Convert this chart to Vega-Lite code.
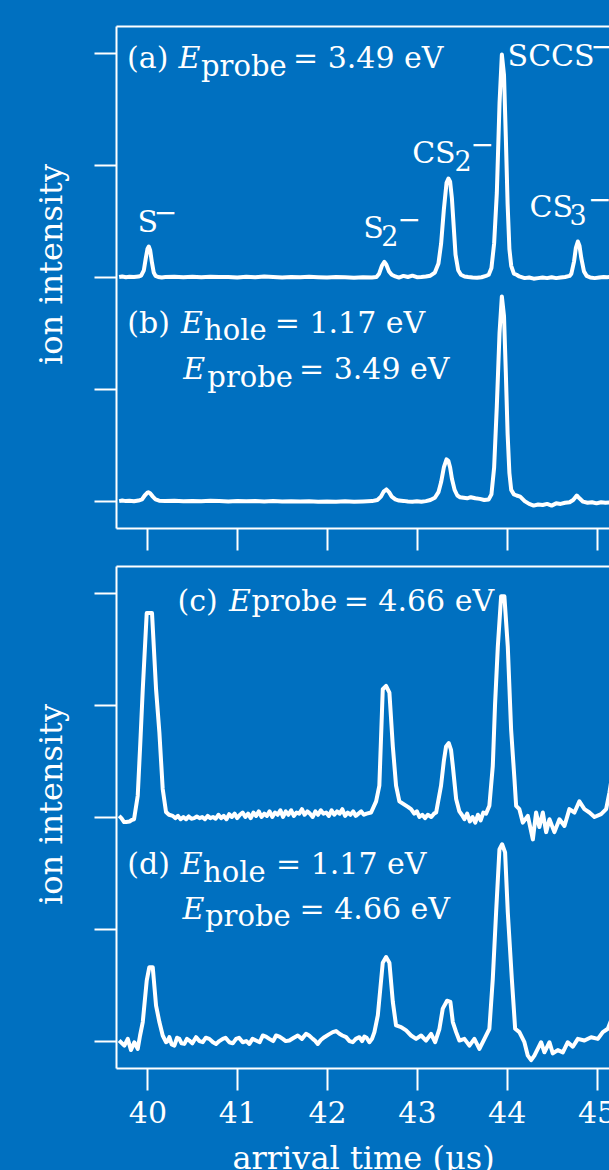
{
"$schema": "https://vega.github.io/schema/vega-lite/v6.json",
"background": "#0070C0",
"padding": {"left": 35, "top": 26, "right": 0, "bottom": 0},
"spacing": 38,
"bounds": "flush",
"config": {
  "view": {"stroke": null},
  "font": "DejaVu Serif",
  "axis": {"domainColor": "white", "domainWidth": 2, "tickColor": "white", "tickWidth": 2, "tickSize": 22, "grid": false, "labelColor": "white", "labelFont": "DejaVu Serif", "labelFontSize": 30, "labelPadding": 8, "titleColor": "white", "titleFont": "DejaVu Serif", "titleFontSize": 32, "titleFontWeight": "normal"}
},
"datasets": {
"tr1": [
{"s":"a","x":39.685,"y":2.0},{"s":"a","x":39.72,"y":2.005},{"s":"a","x":39.76,"y":1.998},{"s":"a","x":39.8,"y":2.003},{"s":"a","x":39.85,"y":2.0},{"s":"a","x":39.9,"y":2.004},{"s":"a","x":39.93,"y":2.012},{"s":"a","x":39.96,"y":2.06},{"s":"a","x":39.98,"y":2.16},{"s":"a","x":40.0,"y":2.25},{"s":"a","x":40.015,"y":2.272},{"s":"a","x":40.03,"y":2.24},{"s":"a","x":40.05,"y":2.13},{"s":"a","x":40.07,"y":2.04},{"s":"a","x":40.09,"y":2.01},{"s":"a","x":40.12,"y":2.0},{"s":"a","x":40.16,"y":1.996},{"s":"a","x":40.2,"y":1.999},{"s":"a","x":40.3,"y":2.003},{"s":"a","x":40.4,"y":1.997},{"s":"a","x":40.5,"y":2.002},{"s":"a","x":40.6,"y":1.997},{"s":"a","x":40.7,"y":2.003},{"s":"a","x":40.8,"y":1.999},{"s":"a","x":40.9,"y":2.001},{"s":"a","x":41.0,"y":1.996},{"s":"a","x":41.1,"y":2.002},{"s":"a","x":41.2,"y":1.998},{"s":"a","x":41.3,"y":2.004},{"s":"a","x":41.4,"y":1.999},{"s":"a","x":41.5,"y":1.995},{"s":"a","x":41.6,"y":2.001},{"s":"a","x":41.7,"y":1.997},{"s":"a","x":41.8,"y":2.002},{"s":"a","x":41.9,"y":1.998},{"s":"a","x":42.0,"y":1.995},{"s":"a","x":42.1,"y":2.0},{"s":"a","x":42.2,"y":1.997},{"s":"a","x":42.3,"y":1.994},{"s":"a","x":42.4,"y":1.998},{"s":"a","x":42.5,"y":1.996},{"s":"a","x":42.55,"y":2.0},{"s":"a","x":42.58,"y":2.03},{"s":"a","x":42.61,"y":2.1},{"s":"a","x":42.638,"y":2.135},{"s":"a","x":42.66,"y":2.11},{"s":"a","x":42.69,"y":2.05},{"s":"a","x":42.72,"y":2.02},{"s":"a","x":42.76,"y":2.005},{"s":"a","x":42.8,"y":1.995},{"s":"a","x":42.85,"y":2.01},{"s":"a","x":42.9,"y":2.0},{"s":"a","x":42.95,"y":2.012},{"s":"a","x":43.0,"y":1.998},{"s":"a","x":43.05,"y":2.0},{"s":"a","x":43.1,"y":2.005},{"s":"a","x":43.15,"y":2.012},{"s":"a","x":43.2,"y":2.04},{"s":"a","x":43.24,"y":2.12},{"s":"a","x":43.27,"y":2.3},{"s":"a","x":43.3,"y":2.6},{"s":"a","x":43.33,"y":2.84},{"s":"a","x":43.351,"y":2.879},{"s":"a","x":43.37,"y":2.85},{"s":"a","x":43.39,"y":2.7},{"s":"a","x":43.41,"y":2.45},{"s":"a","x":43.43,"y":2.2},{"s":"a","x":43.46,"y":2.06},{"s":"a","x":43.49,"y":2.02},{"s":"a","x":43.53,"y":2.005},{"s":"a","x":43.57,"y":2.0},{"s":"a","x":43.62,"y":1.995},{"s":"a","x":43.67,"y":1.993},{"s":"a","x":43.72,"y":1.998},{"s":"a","x":43.77,"y":2.01},{"s":"a","x":43.8,"y":2.02},{"s":"a","x":43.83,"y":2.08},{"s":"a","x":43.86,"y":2.3},{"s":"a","x":43.89,"y":2.75},{"s":"a","x":43.92,"y":3.55},{"s":"a","x":43.946,"y":3.985},{"s":"a","x":43.97,"y":3.8},{"s":"a","x":43.99,"y":3.25},{"s":"a","x":44.01,"y":2.65},{"s":"a","x":44.03,"y":2.25},{"s":"a","x":44.05,"y":2.1},{"s":"a","x":44.08,"y":2.03},{"s":"a","x":44.11,"y":2.02},{"s":"a","x":44.14,"y":2.005},{"s":"a","x":44.2,"y":1.99},{"s":"a","x":44.25,"y":1.995},{"s":"a","x":44.3,"y":1.985},{"s":"a","x":44.35,"y":1.99},{"s":"a","x":44.4,"y":1.995},{"s":"a","x":44.45,"y":1.99},{"s":"a","x":44.5,"y":1.998},{"s":"a","x":44.55,"y":1.99},{"s":"a","x":44.6,"y":1.995},{"s":"a","x":44.65,"y":2.0},{"s":"a","x":44.7,"y":2.01},{"s":"a","x":44.72,"y":2.03},{"s":"a","x":44.75,"y":2.14},{"s":"a","x":44.77,"y":2.26},{"s":"a","x":44.792,"y":2.317},{"s":"a","x":44.81,"y":2.28},{"s":"a","x":44.83,"y":2.17},{"s":"a","x":44.86,"y":2.05},{"s":"a","x":44.89,"y":2.01},{"s":"a","x":44.93,"y":1.995},{"s":"a","x":44.98,"y":1.99},{"s":"a","x":45.03,"y":1.995},{"s":"a","x":45.08,"y":2.0},{"s":"a","x":45.12,"y":1.998},{"s":"a","x":45.16,"y":2.0},
{"s":"b","x":39.685,"y":0.0},{"s":"b","x":39.72,"y":0.005},{"s":"b","x":39.76,"y":0.0},{"s":"b","x":39.8,"y":0.003},{"s":"b","x":39.85,"y":-0.002},{"s":"b","x":39.9,"y":0.005},{"s":"b","x":39.94,"y":0.015},{"s":"b","x":39.97,"y":0.05},{"s":"b","x":40.0,"y":0.075},{"s":"b","x":40.01,"y":0.078},{"s":"b","x":40.03,"y":0.07},{"s":"b","x":40.06,"y":0.04},{"s":"b","x":40.09,"y":0.015},{"s":"b","x":40.13,"y":0.004},{"s":"b","x":40.2,"y":0.0},{"s":"b","x":40.3,"y":0.003},{"s":"b","x":40.4,"y":-0.002},{"s":"b","x":40.5,"y":0.002},{"s":"b","x":40.6,"y":-0.001},{"s":"b","x":40.7,"y":0.003},{"s":"b","x":40.8,"y":0.0},{"s":"b","x":40.9,"y":-0.003},{"s":"b","x":41.0,"y":0.001},{"s":"b","x":41.1,"y":-0.002},{"s":"b","x":41.2,"y":0.0},{"s":"b","x":41.3,"y":-0.004},{"s":"b","x":41.4,"y":0.001},{"s":"b","x":41.5,"y":-0.003},{"s":"b","x":41.6,"y":-0.001},{"s":"b","x":41.7,"y":-0.004},{"s":"b","x":41.8,"y":-0.002},{"s":"b","x":41.9,"y":-0.006},{"s":"b","x":42.0,"y":-0.003},{"s":"b","x":42.1,"y":-0.006},{"s":"b","x":42.2,"y":-0.002},{"s":"b","x":42.3,"y":-0.005},{"s":"b","x":42.4,"y":-0.003},{"s":"b","x":42.5,"y":0.0},{"s":"b","x":42.56,"y":0.01},{"s":"b","x":42.6,"y":0.04},{"s":"b","x":42.63,"y":0.085},{"s":"b","x":42.66,"y":0.104},{"s":"b","x":42.69,"y":0.08},{"s":"b","x":42.72,"y":0.04},{"s":"b","x":42.76,"y":0.015},{"s":"b","x":42.8,"y":0.005},{"s":"b","x":42.85,"y":0.002},{"s":"b","x":42.9,"y":-0.003},{"s":"b","x":42.95,"y":-0.005},{"s":"b","x":43.0,"y":-0.002},{"s":"b","x":43.05,"y":-0.006},{"s":"b","x":43.1,"y":0.0},{"s":"b","x":43.15,"y":0.01},{"s":"b","x":43.2,"y":0.03},{"s":"b","x":43.24,"y":0.08},{"s":"b","x":43.27,"y":0.17},{"s":"b","x":43.3,"y":0.3},{"s":"b","x":43.33,"y":0.372},{"s":"b","x":43.35,"y":0.36},{"s":"b","x":43.37,"y":0.3},{"s":"b","x":43.39,"y":0.2},{"s":"b","x":43.42,"y":0.1},{"s":"b","x":43.45,"y":0.05},{"s":"b","x":43.48,"y":0.035},{"s":"b","x":43.52,"y":0.03},{"s":"b","x":43.56,"y":0.025},{"s":"b","x":43.6,"y":0.035},{"s":"b","x":43.65,"y":0.025},{"s":"b","x":43.7,"y":0.02},{"s":"b","x":43.75,"y":0.01},{"s":"b","x":43.8,"y":0.015},{"s":"b","x":43.83,"y":0.06},{"s":"b","x":43.86,"y":0.3},{"s":"b","x":43.89,"y":0.85},{"s":"b","x":43.92,"y":1.5},{"s":"b","x":43.946,"y":1.826},{"s":"b","x":43.97,"y":1.65},{"s":"b","x":43.99,"y":1.15},{"s":"b","x":44.01,"y":0.6},{"s":"b","x":44.03,"y":0.25},{"s":"b","x":44.05,"y":0.1},{"s":"b","x":44.08,"y":0.06},{"s":"b","x":44.11,"y":0.05},{"s":"b","x":44.15,"y":0.04},{"s":"b","x":44.2,"y":0.0},{"s":"b","x":44.25,"y":-0.025},{"s":"b","x":44.3,"y":-0.04},{"s":"b","x":44.35,"y":-0.03},{"s":"b","x":44.4,"y":-0.035},{"s":"b","x":44.45,"y":-0.025},{"s":"b","x":44.5,"y":-0.04},{"s":"b","x":44.55,"y":-0.02},{"s":"b","x":44.6,"y":-0.025},{"s":"b","x":44.65,"y":-0.015},{"s":"b","x":44.7,"y":-0.01},{"s":"b","x":44.74,"y":0.01},{"s":"b","x":44.78,"y":0.05},{"s":"b","x":44.81,"y":0.025},{"s":"b","x":44.85,"y":-0.005},{"s":"b","x":44.9,"y":-0.015},{"s":"b","x":44.95,"y":-0.01},{"s":"b","x":45.0,"y":-0.02},{"s":"b","x":45.05,"y":-0.01},{"s":"b","x":45.1,"y":-0.015},{"s":"b","x":45.16,"y":-0.01}
],
"tr2": [
{"s":"c","x":39.685,"y":2.01},{"s":"c","x":39.71,"y":1.99},{"s":"c","x":39.74,"y":1.955},{"s":"c","x":39.762,"y":1.955},{"s":"c","x":39.8,"y":1.96},{"s":"c","x":39.83,"y":1.975},{"s":"c","x":39.851,"y":1.98},{"s":"c","x":39.892,"y":2.19},{"s":"c","x":39.92,"y":2.65},{"s":"c","x":39.948,"y":3.14},{"s":"c","x":39.992,"y":3.82},{"s":"c","x":40.051,"y":3.82},{"s":"c","x":40.096,"y":3.14},{"s":"c","x":40.133,"y":2.755},{"s":"c","x":40.17,"y":2.25},{"s":"c","x":40.207,"y":2.045},{"s":"c","x":40.24,"y":2.02},{"s":"c","x":40.282,"y":2.01},{"s":"c","x":40.31,"y":1.99},{"s":"c","x":40.34,"y":2.01},{"s":"c","x":40.37,"y":1.98},{"s":"c","x":40.4,"y":2.0},{"s":"c","x":40.43,"y":1.98},{"s":"c","x":40.46,"y":2.005},{"s":"c","x":40.49,"y":1.985},{"s":"c","x":40.52,"y":1.99},{"s":"c","x":40.55,"y":2.005},{"s":"c","x":40.58,"y":1.99},{"s":"c","x":40.61,"y":2.0},{"s":"c","x":40.64,"y":1.98},{"s":"c","x":40.67,"y":2.01},{"s":"c","x":40.7,"y":1.99},{"s":"c","x":40.73,"y":2.0},{"s":"c","x":40.76,"y":1.985},{"s":"c","x":40.79,"y":2.02},{"s":"c","x":40.82,"y":1.99},{"s":"c","x":40.85,"y":2.01},{"s":"c","x":40.88,"y":1.98},{"s":"c","x":40.91,"y":2.025},{"s":"c","x":40.94,"y":2.0},{"s":"c","x":40.97,"y":2.03},{"s":"c","x":41.0,"y":1.99},{"s":"c","x":41.03,"y":2.02},{"s":"c","x":41.06,"y":2.04},{"s":"c","x":41.09,"y":2.0},{"s":"c","x":41.12,"y":2.03},{"s":"c","x":41.15,"y":1.99},{"s":"c","x":41.18,"y":2.04},{"s":"c","x":41.21,"y":2.01},{"s":"c","x":41.24,"y":2.05},{"s":"c","x":41.27,"y":2.0},{"s":"c","x":41.3,"y":2.03},{"s":"c","x":41.33,"y":2.01},{"s":"c","x":41.36,"y":2.05},{"s":"c","x":41.39,"y":2.0},{"s":"c","x":41.42,"y":2.04},{"s":"c","x":41.45,"y":2.02},{"s":"c","x":41.48,"y":2.06},{"s":"c","x":41.51,"y":2.0},{"s":"c","x":41.54,"y":2.05},{"s":"c","x":41.57,"y":2.02},{"s":"c","x":41.6,"y":2.06},{"s":"c","x":41.63,"y":2.01},{"s":"c","x":41.66,"y":2.04},{"s":"c","x":41.69,"y":2.03},{"s":"c","x":41.72,"y":2.07},{"s":"c","x":41.75,"y":2.02},{"s":"c","x":41.78,"y":2.05},{"s":"c","x":41.81,"y":2.03},{"s":"c","x":41.84,"y":2.0},{"s":"c","x":41.87,"y":2.05},{"s":"c","x":41.9,"y":2.02},{"s":"c","x":41.93,"y":2.06},{"s":"c","x":41.96,"y":2.03},{"s":"c","x":41.99,"y":2.04},{"s":"c","x":42.02,"y":2.01},{"s":"c","x":42.05,"y":2.06},{"s":"c","x":42.08,"y":2.02},{"s":"c","x":42.11,"y":2.05},{"s":"c","x":42.14,"y":2.03},{"s":"c","x":42.17,"y":2.07},{"s":"c","x":42.2,"y":2.01},{"s":"c","x":42.23,"y":2.04},{"s":"c","x":42.26,"y":2.02},{"s":"c","x":42.29,"y":2.05},{"s":"c","x":42.32,"y":2.01},{"s":"c","x":42.35,"y":2.03},{"s":"c","x":42.38,"y":2.05},{"s":"c","x":42.41,"y":2.02},{"s":"c","x":42.44,"y":2.03},{"s":"c","x":42.49,"y":2.04},{"s":"c","x":42.546,"y":2.14},{"s":"c","x":42.582,"y":2.28},{"s":"c","x":42.62,"y":3.14},{"s":"c","x":42.657,"y":3.17},{"s":"c","x":42.694,"y":3.11},{"s":"c","x":42.732,"y":2.63},{"s":"c","x":42.768,"y":2.28},{"s":"c","x":42.805,"y":2.14},{"s":"c","x":42.861,"y":2.11},{"s":"c","x":42.9,"y":2.09},{"s":"c","x":42.935,"y":2.07},{"s":"c","x":42.97,"y":2.03},{"s":"c","x":43.0,"y":2.05},{"s":"c","x":43.028,"y":2.0},{"s":"c","x":43.06,"y":2.02},{"s":"c","x":43.09,"y":1.99},{"s":"c","x":43.121,"y":2.02},{"s":"c","x":43.16,"y":2.0},{"s":"c","x":43.19,"y":2.03},{"s":"c","x":43.214,"y":2.04},{"s":"c","x":43.269,"y":2.28},{"s":"c","x":43.3,"y":2.5},{"s":"c","x":43.325,"y":2.63},{"s":"c","x":43.355,"y":2.66},{"s":"c","x":43.38,"y":2.6},{"s":"c","x":43.4,"y":2.455},{"s":"c","x":43.437,"y":2.16},{"s":"c","x":43.473,"y":2.05},{"s":"c","x":43.5,"y":2.02},{"s":"c","x":43.53,"y":1.98},{"s":"c","x":43.56,"y":2.03},{"s":"c","x":43.59,"y":1.96},{"s":"c","x":43.62,"y":2.0},{"s":"c","x":43.65,"y":1.95},{"s":"c","x":43.68,"y":2.02},{"s":"c","x":43.71,"y":1.97},{"s":"c","x":43.74,"y":2.04},{"s":"c","x":43.77,"y":2.03},{"s":"c","x":43.807,"y":2.1},{"s":"c","x":43.845,"y":2.455},{"s":"c","x":43.87,"y":3.0},{"s":"c","x":43.901,"y":3.52},{"s":"c","x":43.938,"y":3.97},{"s":"c","x":43.974,"y":3.97},{"s":"c","x":44.012,"y":3.52},{"s":"c","x":44.049,"y":2.78},{"s":"c","x":44.086,"y":2.34},{"s":"c","x":44.105,"y":2.1},{"s":"c","x":44.141,"y":2.07},{"s":"c","x":44.179,"y":1.95},{"s":"c","x":44.235,"y":2.01},{"s":"c","x":44.291,"y":1.8},{"s":"c","x":44.327,"y":2.04},{"s":"c","x":44.364,"y":1.91},{"s":"c","x":44.402,"y":2.04},{"s":"c","x":44.439,"y":1.865},{"s":"c","x":44.476,"y":1.98},{"s":"c","x":44.531,"y":1.865},{"s":"c","x":44.587,"y":1.98},{"s":"c","x":44.643,"y":1.92},{"s":"c","x":44.698,"y":2.07},{"s":"c","x":44.754,"y":2.04},{"s":"c","x":44.809,"y":2.14},{"s":"c","x":44.865,"y":2.07},{"s":"c","x":44.921,"y":2.04},{"s":"c","x":44.977,"y":2.0},{"s":"c","x":45.051,"y":2.025},{"s":"c","x":45.107,"y":2.07},{"s":"c","x":45.144,"y":2.22},{"s":"c","x":45.16,"y":2.3},
{"s":"d","x":39.685,"y":0.005},{"s":"d","x":39.743,"y":-0.04},{"s":"d","x":39.781,"y":0.02},{"s":"d","x":39.817,"y":-0.08},{"s":"d","x":39.854,"y":-0.01},{"s":"d","x":39.892,"y":-0.07},{"s":"d","x":39.918,"y":0.05},{"s":"d","x":39.948,"y":0.17},{"s":"d","x":39.992,"y":0.54},{"s":"d","x":40.021,"y":0.66},{"s":"d","x":40.059,"y":0.66},{"s":"d","x":40.096,"y":0.317},{"s":"d","x":40.133,"y":0.17},{"s":"d","x":40.17,"y":0.05},{"s":"d","x":40.207,"y":-0.01},{"s":"d","x":40.226,"y":0.0},{"s":"d","x":40.244,"y":0.035},{"s":"d","x":40.27,"y":-0.03},{"s":"d","x":40.3,"y":-0.04},{"s":"d","x":40.33,"y":0.03},{"s":"d","x":40.355,"y":0.02},{"s":"d","x":40.38,"y":-0.02},{"s":"d","x":40.411,"y":-0.025},{"s":"d","x":40.44,"y":0.02},{"s":"d","x":40.467,"y":0.005},{"s":"d","x":40.5,"y":-0.02},{"s":"d","x":40.541,"y":0.035},{"s":"d","x":40.58,"y":0.0},{"s":"d","x":40.616,"y":-0.01},{"s":"d","x":40.65,"y":0.03},{"s":"d","x":40.689,"y":0.02},{"s":"d","x":40.73,"y":-0.01},{"s":"d","x":40.764,"y":-0.025},{"s":"d","x":40.8,"y":0.0},{"s":"d","x":40.839,"y":0.02},{"s":"d","x":40.87,"y":0.03},{"s":"d","x":40.912,"y":-0.01},{"s":"d","x":40.95,"y":-0.02},{"s":"d","x":40.987,"y":0.02},{"s":"d","x":41.02,"y":0.03},{"s":"d","x":41.061,"y":-0.01},{"s":"d","x":41.1,"y":0.0},{"s":"d","x":41.135,"y":-0.025},{"s":"d","x":41.17,"y":0.02},{"s":"d","x":41.209,"y":0.005},{"s":"d","x":41.25,"y":-0.01},{"s":"d","x":41.284,"y":0.05},{"s":"d","x":41.32,"y":0.04},{"s":"d","x":41.357,"y":0.02},{"s":"d","x":41.4,"y":0.0},{"s":"d","x":41.432,"y":0.05},{"s":"d","x":41.47,"y":0.04},{"s":"d","x":41.507,"y":0.02},{"s":"d","x":41.54,"y":0.0},{"s":"d","x":41.58,"y":0.005},{"s":"d","x":41.63,"y":0.03},{"s":"d","x":41.674,"y":0.05},{"s":"d","x":41.72,"y":0.02},{"s":"d","x":41.766,"y":0.065},{"s":"d","x":41.8,"y":0.05},{"s":"d","x":41.841,"y":0.02},{"s":"d","x":41.87,"y":0.0},{"s":"d","x":41.896,"y":-0.025},{"s":"d","x":41.93,"y":0.01},{"s":"d","x":41.97,"y":0.035},{"s":"d","x":42.02,"y":0.06},{"s":"d","x":42.063,"y":0.08},{"s":"d","x":42.1,"y":0.09},{"s":"d","x":42.137,"y":0.065},{"s":"d","x":42.17,"y":0.05},{"s":"d","x":42.212,"y":0.035},{"s":"d","x":42.25,"y":0.0},{"s":"d","x":42.286,"y":-0.01},{"s":"d","x":42.32,"y":0.02},{"s":"d","x":42.36,"y":0.035},{"s":"d","x":42.39,"y":0.0},{"s":"d","x":42.415,"y":0.04},{"s":"d","x":42.44,"y":0.03},{"s":"d","x":42.471,"y":-0.01},{"s":"d","x":42.5,"y":0.02},{"s":"d","x":42.527,"y":0.08},{"s":"d","x":42.565,"y":0.23},{"s":"d","x":42.62,"y":0.7},{"s":"d","x":42.657,"y":0.75},{"s":"d","x":42.694,"y":0.7},{"s":"d","x":42.732,"y":0.35},{"s":"d","x":42.768,"y":0.14},{"s":"d","x":42.824,"y":0.125},{"s":"d","x":42.88,"y":0.095},{"s":"d","x":42.935,"y":0.05},{"s":"d","x":42.991,"y":0.02},{"s":"d","x":43.047,"y":0.05},{"s":"d","x":43.102,"y":0.005},{"s":"d","x":43.158,"y":0.065},{"s":"d","x":43.203,"y":-0.01},{"s":"d","x":43.251,"y":0.11},{"s":"d","x":43.288,"y":0.29},{"s":"d","x":43.336,"y":0.36},{"s":"d","x":43.373,"y":0.35},{"s":"d","x":43.4,"y":0.17},{"s":"d","x":43.437,"y":0.08},{"s":"d","x":43.473,"y":0.005},{"s":"d","x":43.529,"y":0.02},{"s":"d","x":43.585,"y":-0.04},{"s":"d","x":43.64,"y":0.02},{"s":"d","x":43.696,"y":-0.07},{"s":"d","x":43.752,"y":0.02},{"s":"d","x":43.807,"y":0.11},{"s":"d","x":43.845,"y":0.555},{"s":"d","x":43.882,"y":1.15},{"s":"d","x":43.919,"y":1.71},{"s":"d","x":43.949,"y":1.757},{"s":"d","x":43.982,"y":1.684},{"s":"d","x":44.012,"y":1.15},{"s":"d","x":44.057,"y":0.555},{"s":"d","x":44.094,"y":0.11},{"s":"d","x":44.141,"y":0.08},{"s":"d","x":44.197,"y":-0.01},{"s":"d","x":44.235,"y":-0.13},{"s":"d","x":44.272,"y":-0.17},{"s":"d","x":44.308,"y":-0.13},{"s":"d","x":44.383,"y":-0.01},{"s":"d","x":44.42,"y":-0.1},{"s":"d","x":44.476,"y":-0.01},{"s":"d","x":44.513,"y":-0.11},{"s":"d","x":44.569,"y":-0.08},{"s":"d","x":44.625,"y":-0.1},{"s":"d","x":44.68,"y":-0.01},{"s":"d","x":44.736,"y":-0.05},{"s":"d","x":44.792,"y":0.02},{"s":"d","x":44.865,"y":0.005},{"s":"d","x":44.94,"y":0.035},{"s":"d","x":45.015,"y":0.02},{"s":"d","x":45.07,"y":0.08},{"s":"d","x":45.126,"y":0.11},{"s":"d","x":45.16,"y":0.18}
],
"lab1": [
{"t":"(a)","x":39.773,"y":3.866},{"t":"= 3.49 eV","x":41.621,"y":3.866},
{"t":"(b)","x":39.776,"y":1.502},{"t":"= 1.17 eV","x":41.418,"y":1.502},
{"t":"= 3.49 eV","x":41.688,"y":1.086},
{"t":"S","x":39.89,"y":2.403},{"t":"S","x":42.403,"y":2.35},{"t":"CS","x":42.947,"y":3.019},{"t":"SCCS","x":44.01,"y":3.887},{"t":"CS","x":44.253,"y":2.535}
],
"sw1": [
{"t":"probe","x":40.597,"y":3.795},{"t":"hole","x":40.63,"y":1.436},{"t":"probe","x":40.667,"y":1.019}
],
"it1": [
{"t":"E","x":40.347,"y":3.866},{"t":"E","x":40.374,"y":1.502},{"t":"E","x":40.4,"y":1.086}
],
"sub1": [
{"t":"2","x":42.604,"y":2.275},{"t":"2","x":43.42,"y":2.944},{"t":"3","x":44.7,"y":2.468}
],
"neg1": [
{"t":"−","x":40.07,"y":2.492},{"t":"−","x":42.783,"y":2.432},{"t":"−","x":43.596,"y":3.101},{"t":"−","x":44.932,"y":3.97},{"t":"−","x":44.906,"y":2.61}
],
"lab2": [
{"t":"(c)","x":40.336,"y":3.836},{"t":"= 4.66 eV","x":42.185,"y":3.836},
{"t":"(d)","x":39.775,"y":1.49},{"t":"= 1.17 eV","x":41.432,"y":1.49},
{"t":"= 4.66 eV","x":41.694,"y":1.09}
],
"sw2": [
{"t":"probe","x":41.158,"y":3.836},{"t":"hole","x":40.619,"y":1.424},{"t":"probe","x":40.641,"y":1.023}
],
"it2": [
{"t":"E","x":40.909,"y":3.836},{"t":"E","x":40.37,"y":1.49},{"t":"E","x":40.391,"y":1.09}
]
},
"vconcat": [
{
"width": 494, "height": 502,
"resolve": {"axis": {"x": "independent", "y": "independent"}},
"layer": [
{"data": {"name": "tr1"}, "mark": {"type": "line", "color": "white", "strokeWidth": 4, "strokeJoin": "round", "clip": true},
 "encoding": {
  "x": {"field": "x", "type": "quantitative", "scale": {"domain": [39.65, 45.15], "nice": false, "zero": false}, "axis": {"orient": "bottom", "values": [40,41,42,43,44,45], "labels": false, "title": null}},
  "y": {"field": "y", "type": "quantitative", "scale": {"domain": [-0.24, 4.24], "nice": false, "zero": false}, "axis": {"orient": "left", "values": [0,1,2,3,4], "labels": false, "title": "ion intensity", "titleX": -48, "titleY": 238}},
  "detail": {"field": "s", "type": "nominal"}}},
{"data": {"name": "lab1"}, "mark": {"type": "text", "color": "white", "fontSize": 30, "align": "left", "baseline": "alphabetic"},
 "encoding": {
  "x": {"field": "x", "type": "quantitative", "axis": {"orient": "top", "ticks": false, "labels": false, "title": null}},
  "y": {"field": "y", "type": "quantitative", "axis": null},
  "text": {"field": "t"}}},
{"data": {"name": "sw1"}, "mark": {"type": "text", "color": "white", "fontSize": 29, "align": "left", "baseline": "alphabetic"},
 "encoding": {
  "x": {"field": "x", "type": "quantitative", "axis": null},
  "y": {"field": "y", "type": "quantitative", "axis": null},
  "text": {"field": "t"}}},
{"data": {"name": "it1"}, "mark": {"type": "text", "color": "white", "fontSize": 30, "fontStyle": "italic", "align": "left", "baseline": "alphabetic"},
 "encoding": {
  "x": {"field": "x", "type": "quantitative", "axis": null},
  "y": {"field": "y", "type": "quantitative", "axis": null},
  "text": {"field": "t"}}},
{"data": {"name": "sub1"}, "mark": {"type": "text", "color": "white", "fontSize": 27, "align": "left", "baseline": "alphabetic"},
 "encoding": {
  "x": {"field": "x", "type": "quantitative", "axis": null},
  "y": {"field": "y", "type": "quantitative", "axis": null},
  "text": {"field": "t"}}},
{"data": {"name": "neg1"}, "mark": {"type": "text", "color": "white", "fontSize": 28, "align": "left", "baseline": "alphabetic", "clip": true},
 "encoding": {
  "x": {"field": "x", "type": "quantitative", "axis": null},
  "y": {"field": "y", "type": "quantitative", "axis": null},
  "text": {"field": "t"}}}
]
},
{
"width": 494, "height": 502,
"resolve": {"axis": {"x": "independent", "y": "independent"}},
"layer": [
{"data": {"name": "tr2"}, "mark": {"type": "line", "color": "white", "strokeWidth": 4, "strokeJoin": "round", "clip": true},
 "encoding": {
  "x": {"field": "x", "type": "quantitative", "scale": {"domain": [39.65, 45.15], "nice": false, "zero": false}, "axis": {"orient": "bottom", "values": [40,41,42,43,44,45], "format": "d", "title": "arrival time (µs)", "titlePadding": 15}},
  "y": {"field": "y", "type": "quantitative", "scale": {"domain": [-0.24, 4.24], "nice": false, "zero": false}, "axis": {"orient": "left", "values": [0,1,2,3,4], "labels": false, "title": "ion intensity", "titleX": -48, "titleY": 238}},
  "detail": {"field": "s", "type": "nominal"}}},
{"data": {"name": "lab2"}, "mark": {"type": "text", "color": "white", "fontSize": 30, "align": "left", "baseline": "alphabetic"},
 "encoding": {
  "x": {"field": "x", "type": "quantitative", "axis": {"orient": "top", "ticks": false, "labels": false, "title": null}},
  "y": {"field": "y", "type": "quantitative", "axis": null},
  "text": {"field": "t"}}},
{"data": {"name": "sw2"}, "mark": {"type": "text", "color": "white", "fontSize": 29, "align": "left", "baseline": "alphabetic"},
 "encoding": {
  "x": {"field": "x", "type": "quantitative", "axis": null},
  "y": {"field": "y", "type": "quantitative", "axis": null},
  "text": {"field": "t"}}},
{"data": {"name": "it2"}, "mark": {"type": "text", "color": "white", "fontSize": 30, "fontStyle": "italic", "align": "left", "baseline": "alphabetic"},
 "encoding": {
  "x": {"field": "x", "type": "quantitative", "axis": null},
  "y": {"field": "y", "type": "quantitative", "axis": null},
  "text": {"field": "t"}}}
]
}
]
}
